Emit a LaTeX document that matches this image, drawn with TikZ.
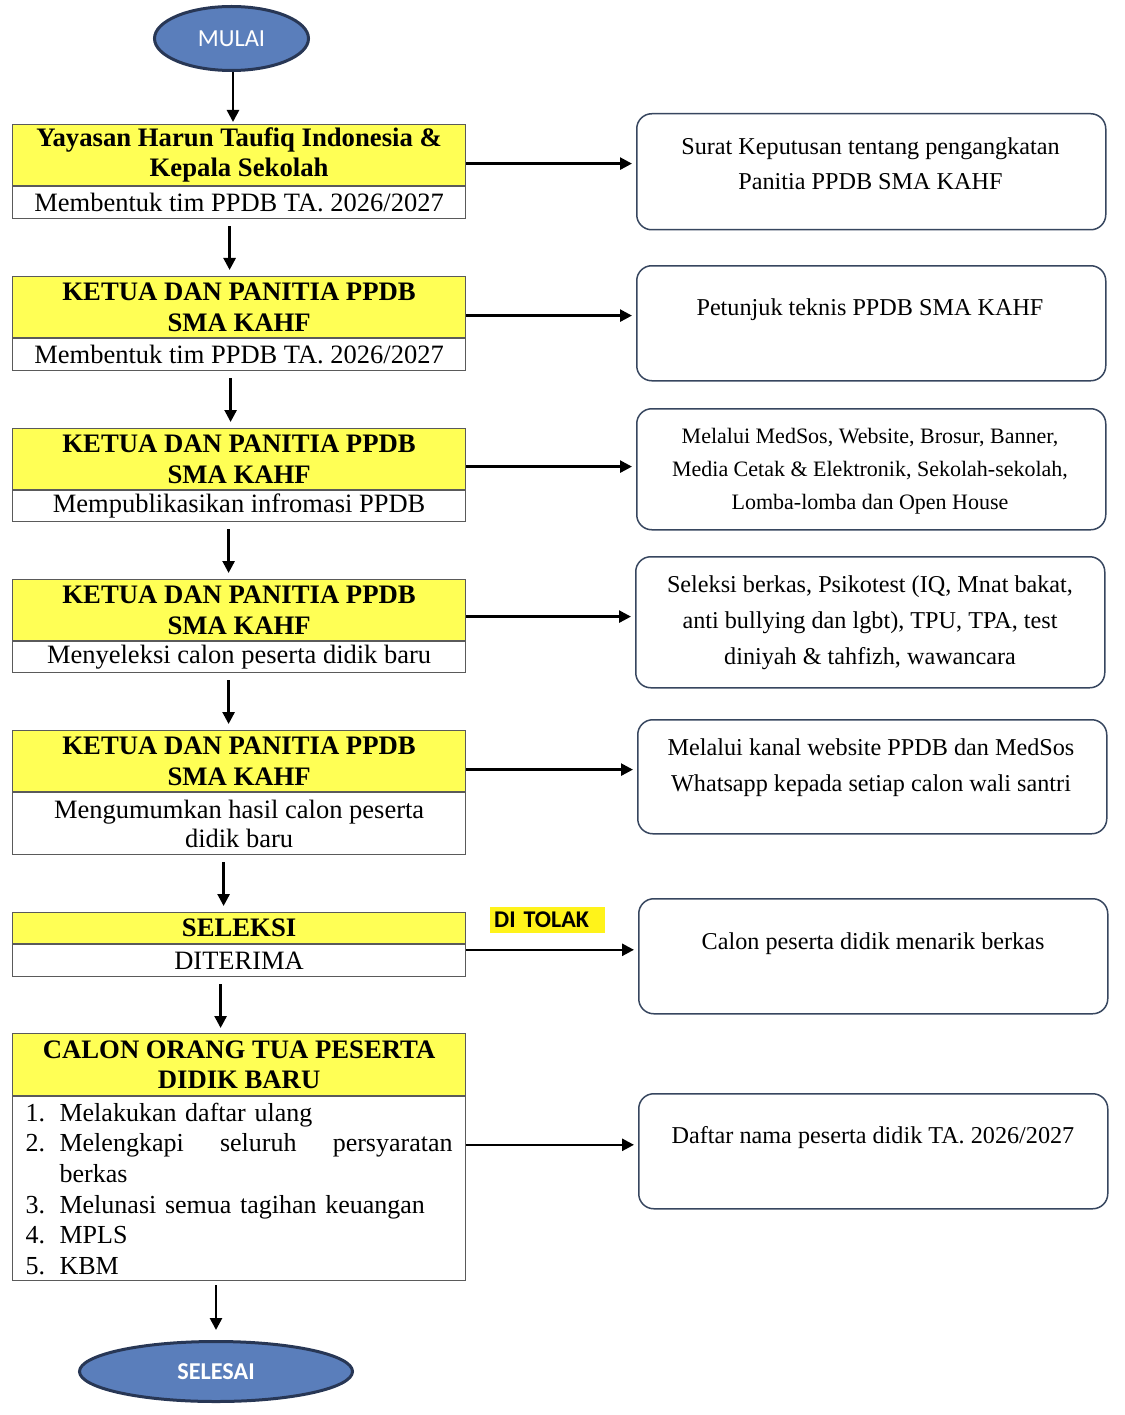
\documentclass[tikz,border=0pt]{standalone}
\usepackage{fontspec}
\setmainfont{Liberation Serif}
\newfontfamily\calfont{Carlito}
\usetikzlibrary{shapes.geometric,arrows.meta}
\definecolor{ybox}{RGB}{255,255,85}
\definecolor{ebl}{RGB}{90,126,187}
\definecolor{edk}{RGB}{40,55,85}
\definecolor{gbord}{RGB}{90,90,90}
\definecolor{rbord}{RGB}{55,70,95}
\begin{document}
\begin{tikzpicture}[x=1pt,y=-1pt,
 head/.style={draw=gbord,line width=1.2pt,fill=ybox,minimum width=453pt,anchor=north west,inner sep=0pt,align=center,font=\fontsize{26.7}{30.5}\selectfont\bfseries},
 body/.style={draw=gbord,line width=1.2pt,fill=white,minimum width=453pt,anchor=north west,inner sep=0pt,align=center,font=\fontsize{26.5}{29.5}\selectfont},
 rbox/.style={draw=rbord,line width=1.5pt,rounded corners=15pt,minimum width=469pt,anchor=north west},
 rtext/.style={align=center,font=\fontsize{24.2}{35}\selectfont},
 term/.style={ellipse,draw=edk,line width=3pt,fill=ebl,text=white,inner sep=0pt},
 arr/.style={line width=2.6pt,-{Triangle[length=12pt,width=12pt]}},
]
\useasboundingbox (0,0) rectangle (1124,1415);
\fill[white] (0,0) rectangle (1124,1415);

% terminals
\node[term,minimum width=154pt,minimum height=64pt,font=\calfont\fontsize{24.5}{28}\selectfont] (mulai) at (231.5,38.5) {\raisebox{-2pt}{MULAI}};
\node[term,minimum width=273pt,minimum height=60pt,font=\calfont\fontsize{24.2}{28}\selectfont\bfseries] (selesai) at (216,1371.5) {\raisebox{-3pt}{SELESAI}};

% left column
\node[head,minimum height=61pt] (h1) at (12,124) {Yayasan Harun Taufiq Indonesia \&\\Kepala Sekolah};
\node[body,minimum height=32pt] (b1) at (h1.south west) {Membentuk tim PPDB TA. 2026/2027};

\node[head,minimum height=61pt] (h2) at (12,276) {KETUA DAN PANITIA PPDB\\SMA KAHF};
\node[body,minimum height=32pt] (b2) at (h2.south west) {Membentuk tim PPDB TA. 2026/2027};

\node[head,minimum height=61pt] (h3) at (12,428) {KETUA DAN PANITIA PPDB\\SMA KAHF};
\node[body,minimum height=31pt] (b3) at (h3.south west) {Mempublikasikan infromasi PPDB};

\node[head,minimum height=61pt] (h4) at (12,579) {KETUA DAN PANITIA PPDB\\SMA KAHF};
\node[body,minimum height=31pt] (b4) at (h4.south west) {Menyeleksi calon peserta didik baru};

\node[head,minimum height=61pt] (h5) at (12,730) {KETUA DAN PANITIA PPDB\\SMA KAHF};
\node[body,minimum height=62pt] (b5) at (h5.south west) {Mengumumkan hasil calon peserta\\didik baru};

\node[head,minimum height=31pt] (h6) at (12,912) {SELEKSI};
\node[body,minimum height=32pt] (b6) at (h6.south west) {DITERIMA};

\node[head,minimum height=62pt] (h7) at (12,1033) {CALON ORANG TUA PESERTA\\DIDIK BARU};
\node[body,minimum height=184pt,text width=427pt,inner xsep=13pt,align=left,font=\fontsize{26}{30.6}\selectfont] (b7) at (h7.south west) {%
\makebox[34pt][l]{1.}Melakukan daftar ulang\\
\makebox[34pt][l]{2.}\makebox[393pt][s]{Melengkapi\hfill seluruh\hfill persyaratan}\\
\hspace*{34pt}berkas\\
\makebox[34pt][l]{3.}Melunasi semua tagihan keuangan\\
\makebox[34pt][l]{4.}MPLS\\
\makebox[34pt][l]{5.}KBM};

% right column
\node[rbox,minimum height=116pt] (r1) at (636,113) {};
\node[rtext] (t1) at (870.5,163.5) {Surat Keputusan tentang pengangkatan\\Panitia PPDB SMA KAHF};
\node[rbox,minimum height=115pt] (r2) at (636,265) {};
\node[rtext] (t2) at (870,310) {Petunjuk teknis PPDB SMA KAHF};
\node[rbox,minimum height=121pt] (r3) at (636,408) {};
\node[rtext,font=\fontsize{22}{33}\selectfont] (t3) at (870,471) {Melalui MedSos, Website, Brosur, Banner,\\Media Cetak \& Elektronik, Sekolah-sekolah,\\Lomba-lomba dan Open House};
\node[rbox,minimum height=131pt] (r4) at (635,556) {};
\node[rtext,font=\fontsize{24.2}{36}\selectfont] (t4) at (870,623) {Seleksi berkas, Psikotest (IQ, Mnat bakat,\\anti bullying dan lgbt), TPU, TPA, test\\diniyah \& tahfizh, wawancara};
\node[rbox,minimum height=114pt] (r5) at (637,719) {};
\node[rtext,font=\fontsize{24.2}{36}\selectfont] (t5) at (871,768) {Melalui kanal website PPDB dan MedSos\\Whatsapp kepada setiap calon wali santri};
\node[rbox,minimum height=115pt] (r6) at (638,898) {};
\node[rtext] (t6) at (873,944) {Calon peserta didik menarik berkas};
\node[rbox,minimum height=115pt] (r7) at (638,1093) {};
\node[rtext] (t7) at (873,1138) {Daftar nama peserta didik TA. 2026/2027};

% DI TOLAK label
\node[fill=yellow!90!white,anchor=west,text width=107pt,inner xsep=4pt,inner ysep=0pt,minimum height=26pt,align=left,font=\calfont\fontsize{24}{26}\selectfont\bfseries] (tolak) at (490,920) {DI TOLAK};

% down arrows
\draw[arr,shorten >=2pt] ([xshift=1.5pt]mulai.south) -- ([xshift=1.5pt]mulai.south |- h1.north);
\draw[arr,shorten <=7pt,shorten >=6pt] ([xshift=-9.5pt]b1.south) -- ([xshift=-9.5pt]h2.north);
\draw[arr,shorten <=7pt,shorten >=6pt] ([xshift=-8.5pt]b2.south) -- ([xshift=-8.5pt]h3.north);
\draw[arr,shorten <=7pt,shorten >=6pt] ([xshift=-10.5pt]b3.south) -- ([xshift=-10.5pt]h4.north);
\draw[arr,shorten <=7pt,shorten >=6pt] ([xshift=-10.5pt]b4.south) -- ([xshift=-10.5pt]h5.north);
\draw[arr,shorten <=7pt,shorten >=6pt] ([xshift=-15.5pt]b5.south) -- ([xshift=-15.5pt]h6.north);
\draw[arr,shorten <=7pt,shorten >=5pt] ([xshift=-18.5pt]b6.south) -- ([xshift=-18.5pt]h7.north);
\draw[arr,shorten <=4pt,shorten >=10pt] (b7.south -| selesai.north) -- (selesai.north);

% right arrows
\draw[arr,shorten >=4pt] ([yshift=-8.5pt]h1.east) -- ([yshift=-8.5pt]h1.east -| r1.west);
\draw[arr,shorten >=4pt] ([yshift=-8.5pt]h2.east) -- ([yshift=-8.5pt]h2.east -| r2.west);
\draw[arr,shorten >=4pt] ([yshift=-7.5pt]h3.east) -- ([yshift=-7.5pt]h3.east -| r3.west);
\draw[arr,shorten >=4pt] ([yshift=-6.5pt]h4.east) -- ([yshift=-6.5pt]h4.east -| r4.west);
\draw[arr,shorten >=4pt] ([yshift=-8.5pt]h5.east) -- ([yshift=-8.5pt]h5.east -| r5.west);
\draw[arr,shorten >=4pt] ([yshift=11pt]b6.east) -- ([yshift=11pt]b6.east -| r6.west);
\draw[arr,shorten >=4pt] ([yshift=44pt]b7.east) -- ([yshift=44pt]b7.east -| r7.west);
\end{tikzpicture}
\end{document}
